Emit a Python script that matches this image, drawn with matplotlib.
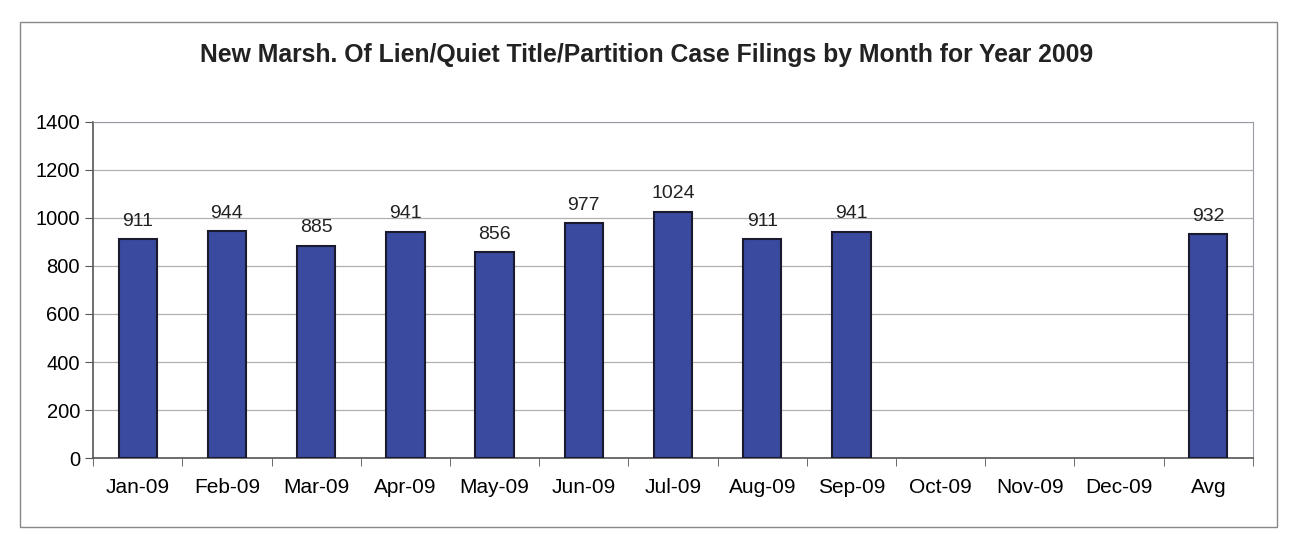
import matplotlib.pyplot as plt
import matplotlib.patches as patches
import numpy as np

categories = ['Jan-09', 'Feb-09', 'Mar-09', 'Apr-09', 'May-09', 'Jun-09', 'Jul-09',
              'Aug-09', 'Sep-09', 'Oct-09', 'Nov-09', 'Dec-09', 'Avg']
filings = [911, 944, 885, 941, 856, 977, 1024, 911, 941, None, None, None, 932]
title = 'New Marsh. Of Lien/Quiet Title/Partition Case Filings by Month for Year 2009'

plt.rcParams['font.family'] = ['Liberation Sans', 'DejaVu Sans']

f = plt.figure(figsize=(12.93, 5.34), dpi=100)
ax = f.add_axes([0.072, 0.142, 0.897, 0.630])

# outer chart border
f.patches.append(patches.Rectangle((20 / 1293, 1 - 527 / 534), 1257 / 1293, 505 / 534,
                                   transform=f.transFigure, fill=False,
                                   edgecolor='#888888', linewidth=1.0))

x = np.arange(len(categories))
vals = np.array([np.nan if v is None else v for v in filings], dtype=float)
ax.bar(x, vals, width=0.43, color='#3A4A9E', edgecolor='#1a1a2e', linewidth=1.5, zorder=3)

for xi, v in zip(x, filings):
    if v is not None:
        ax.text(xi, v + 40, str(v), ha='center', va='bottom', fontsize=14, color='#222222')

ax.set_xlim(-0.5, len(categories) - 0.5)
ax.set_ylim(0, 1400)
ax.set_yticks(range(0, 1401, 200))
ax.yaxis.grid(True, color='#b0b0b0', linewidth=0.9)
ax.set_axisbelow(True)

ax.set_xticks(x)
ax.set_xticklabels(categories, fontsize=15)
ax.set_xticks(np.arange(-0.5, len(categories), 1), minor=True)
ax.tick_params(axis='x', which='major', length=0, pad=14)
ax.tick_params(axis='x', which='minor', length=6, color='#555555')
ax.tick_params(axis='y', labelsize=14.5, length=6, color='#555555')

for s in ['top', 'right']:
    ax.spines[s].set_color('#9a9aa8')
for s in ['left', 'bottom']:
    ax.spines[s].set_color('#555555')
    ax.spines[s].set_linewidth(1.2)

f.text(0.5, 1 - 55 / 534, title, ha='center', va='center', fontsize=17.8, fontweight='bold',
       color='#222222')

f.savefig('out.png')
